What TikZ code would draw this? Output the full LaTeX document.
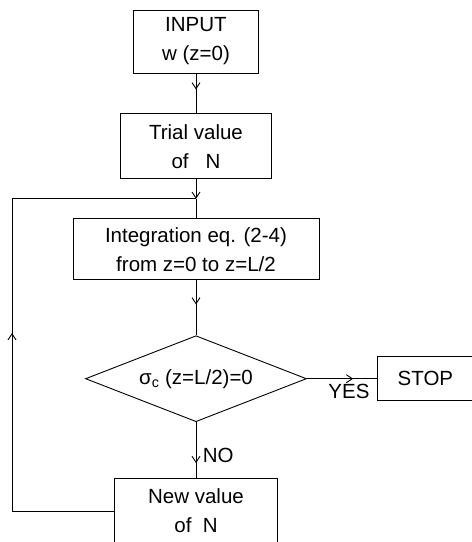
\documentclass[tikz,border=0pt]{standalone}
\usepackage{fontspec}
\setmainfont{Liberation Sans}
\usetikzlibrary{
  shapes.geometric,
  positioning,
  calc,
  arrows.meta,
  decorations.markings}
\tikzset{
  >={Straight Barb[length=6pt,width=8pt]},
  %% procbox : a processing step of the iteration
  procbox/.style={
    rectangle,
    draw=black,
    line width=0.9pt,
    inner sep=0pt,
    align=center
  },
  %% decision : the test on the stress
  decision/.style={
    diamond,
    draw=black,
    line width=0.9pt,
    aspect=2.57,
    inner sep=0pt,
    minimum width=221pt,
    minimum height=86pt,
    align=center
  },
  %% link : plain connection
  link/.style={line width=0.9pt},
  %% flow : connection with the arrow tip part way along
  flow/.style={
    link,
    postaction={decorate},
    decoration={markings,
      mark=at position #1 with {\arrow{>}}}
  },
  flow/.default=0.5
}

\begin{document}
\begin{tikzpicture}
  [x=1pt,
  y=-1pt,
  node distance=40pt and 70pt,
  font=\fontsize{20.5}{29}\selectfont]
  \useasboundingbox (0,0) rectangle (472,542);

  %% main column
  \node (input) [procbox, minimum width=125pt, minimum height=63pt]
    at (196,41.5) {INPUT\\w (z=0)};

  \node (trial) [below=40pt of input, procbox,
    minimum width=151pt, minimum height=65pt] {%
    Trial value\\of~~~N};

  \node (integ) [below=39pt of trial, procbox,
    minimum width=246pt, minimum height=61pt] {%
    Integration eq. (2-4)\\from z=0 to z=L/2};

  \node (test) [below=55pt of integ, decision] {%
    σ\textsubscript{c} (z=L/2)=0};

  \node (newval) [below=56pt of test, procbox,
    minimum width=163pt, minimum height=65pt] {%
    New value\\of~~N};

  \node (stop) [right=70pt of test, procbox,
    minimum width=96pt, minimum height=44pt] {STOP};

  %% loop points
  \coordinate (join) at ($(trial.south)!0.5!(integ.north)$);
  \coordinate (loopx) at (12,0);
  \coordinate (loopbot) at (newval.west -| loopx);
  \coordinate (looptop) at (join -| loopx);

  %% Connections
  \draw [flow=0.4] (input) -- (trial);
  \draw [link, ->] (trial) -- (join);
  \draw [link] (join) -- (integ);
  \draw [flow=0.44] (integ) -- (test);
  \draw [flow=0.66] (test) -- node [below=2pt, pos=0.6] {YES} (stop);
  \draw [flow=0.73] (test) -- node [right=3pt, pos=0.6] {NO} (newval);

  %% back to the integration
  \draw [link] (newval) -- (loopbot);
  \draw [flow=0.57] (loopbot) -- (looptop);
  \draw [link] (looptop) -- (join);

\end{tikzpicture}
\end{document}
